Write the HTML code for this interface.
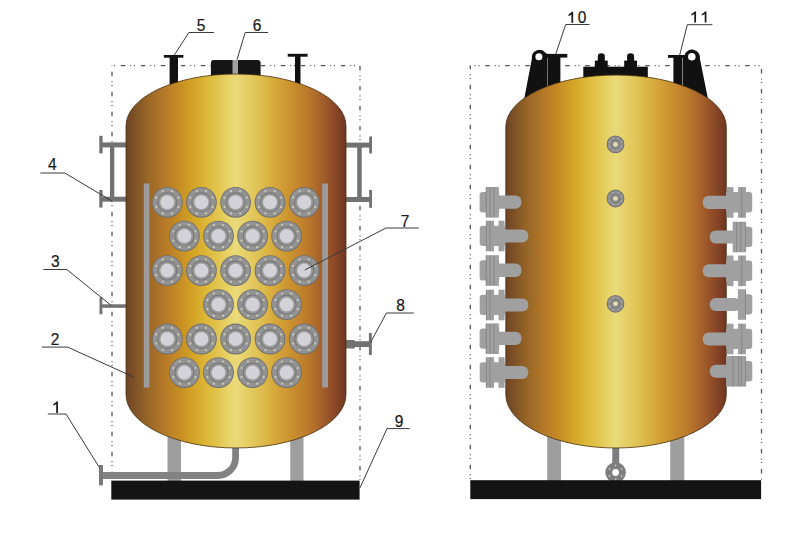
<!DOCTYPE html>
<html><head><meta charset="utf-8"><style>
html,body{margin:0;padding:0;background:#fff;}
body{width:810px;height:539px;overflow:hidden;}
svg{display:block;}
text{font-family:"Liberation Sans",sans-serif;font-size:15.5px;fill:#1a1a1a;stroke:#1a1a1a;stroke-width:0.22px;}
</style></head><body>
<svg width="810" height="539" viewBox="0 0 810 539">
<rect width="810" height="539" fill="#fff"/>

<defs>
<linearGradient id="tg" x1="0" y1="0" x2="1" y2="0">
  <stop offset="0" stop-color="#6e4426"/>
  <stop offset="0.04" stop-color="#7e5226"/>
  <stop offset="0.1" stop-color="#986626"/>
  <stop offset="0.17" stop-color="#b47828"/>
  <stop offset="0.24" stop-color="#c68c24"/>
  <stop offset="0.30" stop-color="#d2a224"/>
  <stop offset="0.36" stop-color="#dcb636"/>
  <stop offset="0.42" stop-color="#e2c650"/>
  <stop offset="0.47" stop-color="#e8d46c"/>
  <stop offset="0.5" stop-color="#eada7a"/>
  <stop offset="0.54" stop-color="#e6d068"/>
  <stop offset="0.6" stop-color="#e0c254"/>
  <stop offset="0.66" stop-color="#d8ae3e"/>
  <stop offset="0.74" stop-color="#cc9430"/>
  <stop offset="0.83" stop-color="#ba782c"/>
  <stop offset="0.9" stop-color="#a05c2a"/>
  <stop offset="0.96" stop-color="#854426"/>
  <stop offset="1" stop-color="#6e3622"/>
</linearGradient>
</defs>
<line x1="112" y1="65.6" x2="112" y2="480" stroke="#555" stroke-width="1.3" stroke-dasharray="4.5 5 1 2.7 1 5.8" stroke-dashoffset="13.8"/><line x1="112" y1="65.6" x2="360" y2="65.6" stroke="#555" stroke-width="1.3" stroke-dasharray="4.5 5 1 2.7 1 5.8" stroke-dashoffset="11.2"/><line x1="360" y1="65.6" x2="360" y2="480" stroke="#555" stroke-width="1.3" stroke-dasharray="4.5 5 1 2.7 1 5.8" stroke-dashoffset="19.5"/><line x1="470.3" y1="65.6" x2="470.3" y2="480" stroke="#555" stroke-width="1.3" stroke-dasharray="4.5 5 1 2.7 1 5.8" stroke-dashoffset="0.9"/><line x1="470.3" y1="65.6" x2="761.5" y2="65.6" stroke="#555" stroke-width="1.3" stroke-dasharray="4.5 5 1 2.7 1 5.8" stroke-dashoffset="5.1"/><line x1="761.5" y1="65.6" x2="761.5" y2="480" stroke="#555" stroke-width="1.3" stroke-dasharray="4.5 5 1 2.7 1 5.8" stroke-dashoffset="16.7"/><rect x="167.5" y="425" width="13.5" height="56" fill="#9e9e9e"/><rect x="290.2" y="425" width="13.3" height="56" fill="#9e9e9e"/><path d="M102,475.5 L217.5,475.5 C227.5,475.5 235.6,467.5 235.6,457.5 L235.6,440" stroke="#828282" stroke-width="6.8" fill="none"/><rect x="99" y="465" width="4" height="20.4" fill="#7a7a7a"/><rect x="163.8" y="55" width="19.6" height="2.7" fill="#111"/><rect x="169.6" y="55" width="8.4" height="35" fill="#111"/><rect x="287.7" y="53.8" width="19.9" height="2.9" fill="#111"/><rect x="295" y="54" width="5.5" height="36" fill="#111"/><path d="M210.9,90 L210.9,63 Q210.9,60 213.9,60 L257.6,60 Q260.6,60 260.6,63 L260.6,90 Z" fill="#151515"/><rect x="232.5" y="60" width="5.5" height="16" fill="#a0a0a0"/><rect x="100" y="142.4" width="26" height="5" fill="#727272"/><rect x="100" y="196.7" width="26" height="5" fill="#727272"/><rect x="110" y="145" width="4.3" height="54" fill="#727272"/><rect x="99.3" y="135.8" width="3.3" height="17.6" fill="#727272"/><rect x="99.3" y="190" width="3.3" height="17.6" fill="#727272"/><rect x="345" y="142.6" width="25" height="5" fill="#727272"/><rect x="345" y="197" width="25" height="5" fill="#727272"/><rect x="357.2" y="145" width="4.5" height="54" fill="#727272"/><rect x="369.2" y="136.4" width="2.8" height="17" fill="#727272"/><rect x="369.2" y="190" width="2.8" height="17.8" fill="#727272"/><rect x="100" y="304.3" width="27" height="3.5" fill="#727272"/><rect x="99.5" y="297.4" width="2.8" height="16.9" fill="#727272"/><rect x="345" y="340" width="10" height="8.6" rx="1.5" fill="#727272"/><rect x="354" y="341.2" width="16" height="5.8" fill="#727272"/><rect x="368.9" y="333" width="2.9" height="22" fill="#727272"/><path d="M126,126 A110,52 0 0 1 346,126 L346,394.5 A110,53.5 0 0 1 126,394.5 Z" fill="url(#tg)" stroke="#4a3010" stroke-width="0.8"/><rect x="143.8" y="183.5" width="5.6" height="204" fill="#9c9c9c"/><rect x="322.2" y="183.5" width="5.8" height="204" fill="#9c9c9c"/><circle cx="167.3" cy="202.3" r="15.4" fill="#6f6f6f"/><circle cx="167.3" cy="202.3" r="14.5" fill="#939393"/><circle cx="178.39" cy="206.89" r="1.1" fill="#cfcdb8"/><circle cx="171.89" cy="213.39" r="1.1" fill="#cfcdb8"/><circle cx="162.71" cy="213.39" r="1.1" fill="#cfcdb8"/><circle cx="156.21" cy="206.89" r="1.1" fill="#cfcdb8"/><circle cx="156.21" cy="197.71" r="1.1" fill="#cfcdb8"/><circle cx="162.71" cy="191.21" r="1.1" fill="#cfcdb8"/><circle cx="171.89" cy="191.21" r="1.1" fill="#cfcdb8"/><circle cx="178.39" cy="197.71" r="1.1" fill="#cfcdb8"/><circle cx="167.3" cy="202.3" r="10" fill="#747474"/><circle cx="167.3" cy="202.3" r="9.1" fill="#969696"/><circle cx="167.3" cy="202.3" r="7" fill="#d2d2d8"/><circle cx="201.4" cy="202.3" r="15.4" fill="#6f6f6f"/><circle cx="201.4" cy="202.3" r="14.5" fill="#939393"/><circle cx="212.49" cy="206.89" r="1.1" fill="#cfcdb8"/><circle cx="205.99" cy="213.39" r="1.1" fill="#cfcdb8"/><circle cx="196.81" cy="213.39" r="1.1" fill="#cfcdb8"/><circle cx="190.31" cy="206.89" r="1.1" fill="#cfcdb8"/><circle cx="190.31" cy="197.71" r="1.1" fill="#cfcdb8"/><circle cx="196.81" cy="191.21" r="1.1" fill="#cfcdb8"/><circle cx="205.99" cy="191.21" r="1.1" fill="#cfcdb8"/><circle cx="212.49" cy="197.71" r="1.1" fill="#cfcdb8"/><circle cx="201.4" cy="202.3" r="10" fill="#747474"/><circle cx="201.4" cy="202.3" r="9.1" fill="#969696"/><circle cx="201.4" cy="202.3" r="7" fill="#d2d2d8"/><circle cx="235.6" cy="202.3" r="15.4" fill="#6f6f6f"/><circle cx="235.6" cy="202.3" r="14.5" fill="#939393"/><circle cx="246.69" cy="206.89" r="1.1" fill="#cfcdb8"/><circle cx="240.19" cy="213.39" r="1.1" fill="#cfcdb8"/><circle cx="231.01" cy="213.39" r="1.1" fill="#cfcdb8"/><circle cx="224.51" cy="206.89" r="1.1" fill="#cfcdb8"/><circle cx="224.51" cy="197.71" r="1.1" fill="#cfcdb8"/><circle cx="231.01" cy="191.21" r="1.1" fill="#cfcdb8"/><circle cx="240.19" cy="191.21" r="1.1" fill="#cfcdb8"/><circle cx="246.69" cy="197.71" r="1.1" fill="#cfcdb8"/><circle cx="235.6" cy="202.3" r="10" fill="#747474"/><circle cx="235.6" cy="202.3" r="9.1" fill="#969696"/><circle cx="235.6" cy="202.3" r="7" fill="#d2d2d8"/><circle cx="270" cy="202.3" r="15.4" fill="#6f6f6f"/><circle cx="270" cy="202.3" r="14.5" fill="#939393"/><circle cx="281.09" cy="206.89" r="1.1" fill="#cfcdb8"/><circle cx="274.59" cy="213.39" r="1.1" fill="#cfcdb8"/><circle cx="265.41" cy="213.39" r="1.1" fill="#cfcdb8"/><circle cx="258.91" cy="206.89" r="1.1" fill="#cfcdb8"/><circle cx="258.91" cy="197.71" r="1.1" fill="#cfcdb8"/><circle cx="265.41" cy="191.21" r="1.1" fill="#cfcdb8"/><circle cx="274.59" cy="191.21" r="1.1" fill="#cfcdb8"/><circle cx="281.09" cy="197.71" r="1.1" fill="#cfcdb8"/><circle cx="270" cy="202.3" r="10" fill="#747474"/><circle cx="270" cy="202.3" r="9.1" fill="#969696"/><circle cx="270" cy="202.3" r="7" fill="#d2d2d8"/><circle cx="304.2" cy="202.3" r="15.4" fill="#6f6f6f"/><circle cx="304.2" cy="202.3" r="14.5" fill="#939393"/><circle cx="315.29" cy="206.89" r="1.1" fill="#cfcdb8"/><circle cx="308.79" cy="213.39" r="1.1" fill="#cfcdb8"/><circle cx="299.61" cy="213.39" r="1.1" fill="#cfcdb8"/><circle cx="293.11" cy="206.89" r="1.1" fill="#cfcdb8"/><circle cx="293.11" cy="197.71" r="1.1" fill="#cfcdb8"/><circle cx="299.61" cy="191.21" r="1.1" fill="#cfcdb8"/><circle cx="308.79" cy="191.21" r="1.1" fill="#cfcdb8"/><circle cx="315.29" cy="197.71" r="1.1" fill="#cfcdb8"/><circle cx="304.2" cy="202.3" r="10" fill="#747474"/><circle cx="304.2" cy="202.3" r="9.1" fill="#969696"/><circle cx="304.2" cy="202.3" r="7" fill="#d2d2d8"/><circle cx="184.4" cy="236.1" r="15.4" fill="#6f6f6f"/><circle cx="184.4" cy="236.1" r="14.5" fill="#939393"/><circle cx="195.49" cy="240.69" r="1.1" fill="#cfcdb8"/><circle cx="188.99" cy="247.19" r="1.1" fill="#cfcdb8"/><circle cx="179.81" cy="247.19" r="1.1" fill="#cfcdb8"/><circle cx="173.31" cy="240.69" r="1.1" fill="#cfcdb8"/><circle cx="173.31" cy="231.51" r="1.1" fill="#cfcdb8"/><circle cx="179.81" cy="225.01" r="1.1" fill="#cfcdb8"/><circle cx="188.99" cy="225.01" r="1.1" fill="#cfcdb8"/><circle cx="195.49" cy="231.51" r="1.1" fill="#cfcdb8"/><circle cx="184.4" cy="236.1" r="10" fill="#747474"/><circle cx="184.4" cy="236.1" r="9.1" fill="#969696"/><circle cx="184.4" cy="236.1" r="7" fill="#d2d2d8"/><circle cx="218.5" cy="236.1" r="15.4" fill="#6f6f6f"/><circle cx="218.5" cy="236.1" r="14.5" fill="#939393"/><circle cx="229.59" cy="240.69" r="1.1" fill="#cfcdb8"/><circle cx="223.09" cy="247.19" r="1.1" fill="#cfcdb8"/><circle cx="213.91" cy="247.19" r="1.1" fill="#cfcdb8"/><circle cx="207.41" cy="240.69" r="1.1" fill="#cfcdb8"/><circle cx="207.41" cy="231.51" r="1.1" fill="#cfcdb8"/><circle cx="213.91" cy="225.01" r="1.1" fill="#cfcdb8"/><circle cx="223.09" cy="225.01" r="1.1" fill="#cfcdb8"/><circle cx="229.59" cy="231.51" r="1.1" fill="#cfcdb8"/><circle cx="218.5" cy="236.1" r="10" fill="#747474"/><circle cx="218.5" cy="236.1" r="9.1" fill="#969696"/><circle cx="218.5" cy="236.1" r="7" fill="#d2d2d8"/><circle cx="252.6" cy="236.1" r="15.4" fill="#6f6f6f"/><circle cx="252.6" cy="236.1" r="14.5" fill="#939393"/><circle cx="263.69" cy="240.69" r="1.1" fill="#cfcdb8"/><circle cx="257.19" cy="247.19" r="1.1" fill="#cfcdb8"/><circle cx="248.01" cy="247.19" r="1.1" fill="#cfcdb8"/><circle cx="241.51" cy="240.69" r="1.1" fill="#cfcdb8"/><circle cx="241.51" cy="231.51" r="1.1" fill="#cfcdb8"/><circle cx="248.01" cy="225.01" r="1.1" fill="#cfcdb8"/><circle cx="257.19" cy="225.01" r="1.1" fill="#cfcdb8"/><circle cx="263.69" cy="231.51" r="1.1" fill="#cfcdb8"/><circle cx="252.6" cy="236.1" r="10" fill="#747474"/><circle cx="252.6" cy="236.1" r="9.1" fill="#969696"/><circle cx="252.6" cy="236.1" r="7" fill="#d2d2d8"/><circle cx="286.6" cy="236.1" r="15.4" fill="#6f6f6f"/><circle cx="286.6" cy="236.1" r="14.5" fill="#939393"/><circle cx="297.69" cy="240.69" r="1.1" fill="#cfcdb8"/><circle cx="291.19" cy="247.19" r="1.1" fill="#cfcdb8"/><circle cx="282.01" cy="247.19" r="1.1" fill="#cfcdb8"/><circle cx="275.51" cy="240.69" r="1.1" fill="#cfcdb8"/><circle cx="275.51" cy="231.51" r="1.1" fill="#cfcdb8"/><circle cx="282.01" cy="225.01" r="1.1" fill="#cfcdb8"/><circle cx="291.19" cy="225.01" r="1.1" fill="#cfcdb8"/><circle cx="297.69" cy="231.51" r="1.1" fill="#cfcdb8"/><circle cx="286.6" cy="236.1" r="10" fill="#747474"/><circle cx="286.6" cy="236.1" r="9.1" fill="#969696"/><circle cx="286.6" cy="236.1" r="7" fill="#d2d2d8"/><circle cx="167.3" cy="270.6" r="15.4" fill="#6f6f6f"/><circle cx="167.3" cy="270.6" r="14.5" fill="#939393"/><circle cx="178.39" cy="275.19" r="1.1" fill="#cfcdb8"/><circle cx="171.89" cy="281.69" r="1.1" fill="#cfcdb8"/><circle cx="162.71" cy="281.69" r="1.1" fill="#cfcdb8"/><circle cx="156.21" cy="275.19" r="1.1" fill="#cfcdb8"/><circle cx="156.21" cy="266.01" r="1.1" fill="#cfcdb8"/><circle cx="162.71" cy="259.51" r="1.1" fill="#cfcdb8"/><circle cx="171.89" cy="259.51" r="1.1" fill="#cfcdb8"/><circle cx="178.39" cy="266.01" r="1.1" fill="#cfcdb8"/><circle cx="167.3" cy="270.6" r="10" fill="#747474"/><circle cx="167.3" cy="270.6" r="9.1" fill="#969696"/><circle cx="167.3" cy="270.6" r="7" fill="#d2d2d8"/><circle cx="201.4" cy="270.6" r="15.4" fill="#6f6f6f"/><circle cx="201.4" cy="270.6" r="14.5" fill="#939393"/><circle cx="212.49" cy="275.19" r="1.1" fill="#cfcdb8"/><circle cx="205.99" cy="281.69" r="1.1" fill="#cfcdb8"/><circle cx="196.81" cy="281.69" r="1.1" fill="#cfcdb8"/><circle cx="190.31" cy="275.19" r="1.1" fill="#cfcdb8"/><circle cx="190.31" cy="266.01" r="1.1" fill="#cfcdb8"/><circle cx="196.81" cy="259.51" r="1.1" fill="#cfcdb8"/><circle cx="205.99" cy="259.51" r="1.1" fill="#cfcdb8"/><circle cx="212.49" cy="266.01" r="1.1" fill="#cfcdb8"/><circle cx="201.4" cy="270.6" r="10" fill="#747474"/><circle cx="201.4" cy="270.6" r="9.1" fill="#969696"/><circle cx="201.4" cy="270.6" r="7" fill="#d2d2d8"/><circle cx="235.6" cy="270.6" r="15.4" fill="#6f6f6f"/><circle cx="235.6" cy="270.6" r="14.5" fill="#939393"/><circle cx="246.69" cy="275.19" r="1.1" fill="#cfcdb8"/><circle cx="240.19" cy="281.69" r="1.1" fill="#cfcdb8"/><circle cx="231.01" cy="281.69" r="1.1" fill="#cfcdb8"/><circle cx="224.51" cy="275.19" r="1.1" fill="#cfcdb8"/><circle cx="224.51" cy="266.01" r="1.1" fill="#cfcdb8"/><circle cx="231.01" cy="259.51" r="1.1" fill="#cfcdb8"/><circle cx="240.19" cy="259.51" r="1.1" fill="#cfcdb8"/><circle cx="246.69" cy="266.01" r="1.1" fill="#cfcdb8"/><circle cx="235.6" cy="270.6" r="10" fill="#747474"/><circle cx="235.6" cy="270.6" r="9.1" fill="#969696"/><circle cx="235.6" cy="270.6" r="7" fill="#d2d2d8"/><circle cx="270" cy="270.6" r="15.4" fill="#6f6f6f"/><circle cx="270" cy="270.6" r="14.5" fill="#939393"/><circle cx="281.09" cy="275.19" r="1.1" fill="#cfcdb8"/><circle cx="274.59" cy="281.69" r="1.1" fill="#cfcdb8"/><circle cx="265.41" cy="281.69" r="1.1" fill="#cfcdb8"/><circle cx="258.91" cy="275.19" r="1.1" fill="#cfcdb8"/><circle cx="258.91" cy="266.01" r="1.1" fill="#cfcdb8"/><circle cx="265.41" cy="259.51" r="1.1" fill="#cfcdb8"/><circle cx="274.59" cy="259.51" r="1.1" fill="#cfcdb8"/><circle cx="281.09" cy="266.01" r="1.1" fill="#cfcdb8"/><circle cx="270" cy="270.6" r="10" fill="#747474"/><circle cx="270" cy="270.6" r="9.1" fill="#969696"/><circle cx="270" cy="270.6" r="7" fill="#d2d2d8"/><circle cx="304.2" cy="270.6" r="15.4" fill="#6f6f6f"/><circle cx="304.2" cy="270.6" r="14.5" fill="#939393"/><circle cx="315.29" cy="275.19" r="1.1" fill="#cfcdb8"/><circle cx="308.79" cy="281.69" r="1.1" fill="#cfcdb8"/><circle cx="299.61" cy="281.69" r="1.1" fill="#cfcdb8"/><circle cx="293.11" cy="275.19" r="1.1" fill="#cfcdb8"/><circle cx="293.11" cy="266.01" r="1.1" fill="#cfcdb8"/><circle cx="299.61" cy="259.51" r="1.1" fill="#cfcdb8"/><circle cx="308.79" cy="259.51" r="1.1" fill="#cfcdb8"/><circle cx="315.29" cy="266.01" r="1.1" fill="#cfcdb8"/><circle cx="304.2" cy="270.6" r="10" fill="#747474"/><circle cx="304.2" cy="270.6" r="9.1" fill="#969696"/><circle cx="304.2" cy="270.6" r="7" fill="#d2d2d8"/><circle cx="218.5" cy="304.6" r="15.4" fill="#6f6f6f"/><circle cx="218.5" cy="304.6" r="14.5" fill="#939393"/><circle cx="229.59" cy="309.19" r="1.1" fill="#cfcdb8"/><circle cx="223.09" cy="315.69" r="1.1" fill="#cfcdb8"/><circle cx="213.91" cy="315.69" r="1.1" fill="#cfcdb8"/><circle cx="207.41" cy="309.19" r="1.1" fill="#cfcdb8"/><circle cx="207.41" cy="300.01" r="1.1" fill="#cfcdb8"/><circle cx="213.91" cy="293.51" r="1.1" fill="#cfcdb8"/><circle cx="223.09" cy="293.51" r="1.1" fill="#cfcdb8"/><circle cx="229.59" cy="300.01" r="1.1" fill="#cfcdb8"/><circle cx="218.5" cy="304.6" r="10" fill="#747474"/><circle cx="218.5" cy="304.6" r="9.1" fill="#969696"/><circle cx="218.5" cy="304.6" r="7" fill="#d2d2d8"/><circle cx="252.6" cy="304.6" r="15.4" fill="#6f6f6f"/><circle cx="252.6" cy="304.6" r="14.5" fill="#939393"/><circle cx="263.69" cy="309.19" r="1.1" fill="#cfcdb8"/><circle cx="257.19" cy="315.69" r="1.1" fill="#cfcdb8"/><circle cx="248.01" cy="315.69" r="1.1" fill="#cfcdb8"/><circle cx="241.51" cy="309.19" r="1.1" fill="#cfcdb8"/><circle cx="241.51" cy="300.01" r="1.1" fill="#cfcdb8"/><circle cx="248.01" cy="293.51" r="1.1" fill="#cfcdb8"/><circle cx="257.19" cy="293.51" r="1.1" fill="#cfcdb8"/><circle cx="263.69" cy="300.01" r="1.1" fill="#cfcdb8"/><circle cx="252.6" cy="304.6" r="10" fill="#747474"/><circle cx="252.6" cy="304.6" r="9.1" fill="#969696"/><circle cx="252.6" cy="304.6" r="7" fill="#d2d2d8"/><circle cx="286.6" cy="304.6" r="15.4" fill="#6f6f6f"/><circle cx="286.6" cy="304.6" r="14.5" fill="#939393"/><circle cx="297.69" cy="309.19" r="1.1" fill="#cfcdb8"/><circle cx="291.19" cy="315.69" r="1.1" fill="#cfcdb8"/><circle cx="282.01" cy="315.69" r="1.1" fill="#cfcdb8"/><circle cx="275.51" cy="309.19" r="1.1" fill="#cfcdb8"/><circle cx="275.51" cy="300.01" r="1.1" fill="#cfcdb8"/><circle cx="282.01" cy="293.51" r="1.1" fill="#cfcdb8"/><circle cx="291.19" cy="293.51" r="1.1" fill="#cfcdb8"/><circle cx="297.69" cy="300.01" r="1.1" fill="#cfcdb8"/><circle cx="286.6" cy="304.6" r="10" fill="#747474"/><circle cx="286.6" cy="304.6" r="9.1" fill="#969696"/><circle cx="286.6" cy="304.6" r="7" fill="#d2d2d8"/><circle cx="167.3" cy="339" r="15.4" fill="#6f6f6f"/><circle cx="167.3" cy="339" r="14.5" fill="#939393"/><circle cx="178.39" cy="343.59" r="1.1" fill="#cfcdb8"/><circle cx="171.89" cy="350.09" r="1.1" fill="#cfcdb8"/><circle cx="162.71" cy="350.09" r="1.1" fill="#cfcdb8"/><circle cx="156.21" cy="343.59" r="1.1" fill="#cfcdb8"/><circle cx="156.21" cy="334.41" r="1.1" fill="#cfcdb8"/><circle cx="162.71" cy="327.91" r="1.1" fill="#cfcdb8"/><circle cx="171.89" cy="327.91" r="1.1" fill="#cfcdb8"/><circle cx="178.39" cy="334.41" r="1.1" fill="#cfcdb8"/><circle cx="167.3" cy="339" r="10" fill="#747474"/><circle cx="167.3" cy="339" r="9.1" fill="#969696"/><circle cx="167.3" cy="339" r="7" fill="#d2d2d8"/><circle cx="201.4" cy="339" r="15.4" fill="#6f6f6f"/><circle cx="201.4" cy="339" r="14.5" fill="#939393"/><circle cx="212.49" cy="343.59" r="1.1" fill="#cfcdb8"/><circle cx="205.99" cy="350.09" r="1.1" fill="#cfcdb8"/><circle cx="196.81" cy="350.09" r="1.1" fill="#cfcdb8"/><circle cx="190.31" cy="343.59" r="1.1" fill="#cfcdb8"/><circle cx="190.31" cy="334.41" r="1.1" fill="#cfcdb8"/><circle cx="196.81" cy="327.91" r="1.1" fill="#cfcdb8"/><circle cx="205.99" cy="327.91" r="1.1" fill="#cfcdb8"/><circle cx="212.49" cy="334.41" r="1.1" fill="#cfcdb8"/><circle cx="201.4" cy="339" r="10" fill="#747474"/><circle cx="201.4" cy="339" r="9.1" fill="#969696"/><circle cx="201.4" cy="339" r="7" fill="#d2d2d8"/><circle cx="235.6" cy="339" r="15.4" fill="#6f6f6f"/><circle cx="235.6" cy="339" r="14.5" fill="#939393"/><circle cx="246.69" cy="343.59" r="1.1" fill="#cfcdb8"/><circle cx="240.19" cy="350.09" r="1.1" fill="#cfcdb8"/><circle cx="231.01" cy="350.09" r="1.1" fill="#cfcdb8"/><circle cx="224.51" cy="343.59" r="1.1" fill="#cfcdb8"/><circle cx="224.51" cy="334.41" r="1.1" fill="#cfcdb8"/><circle cx="231.01" cy="327.91" r="1.1" fill="#cfcdb8"/><circle cx="240.19" cy="327.91" r="1.1" fill="#cfcdb8"/><circle cx="246.69" cy="334.41" r="1.1" fill="#cfcdb8"/><circle cx="235.6" cy="339" r="10" fill="#747474"/><circle cx="235.6" cy="339" r="9.1" fill="#969696"/><circle cx="235.6" cy="339" r="7" fill="#d2d2d8"/><circle cx="270" cy="339" r="15.4" fill="#6f6f6f"/><circle cx="270" cy="339" r="14.5" fill="#939393"/><circle cx="281.09" cy="343.59" r="1.1" fill="#cfcdb8"/><circle cx="274.59" cy="350.09" r="1.1" fill="#cfcdb8"/><circle cx="265.41" cy="350.09" r="1.1" fill="#cfcdb8"/><circle cx="258.91" cy="343.59" r="1.1" fill="#cfcdb8"/><circle cx="258.91" cy="334.41" r="1.1" fill="#cfcdb8"/><circle cx="265.41" cy="327.91" r="1.1" fill="#cfcdb8"/><circle cx="274.59" cy="327.91" r="1.1" fill="#cfcdb8"/><circle cx="281.09" cy="334.41" r="1.1" fill="#cfcdb8"/><circle cx="270" cy="339" r="10" fill="#747474"/><circle cx="270" cy="339" r="9.1" fill="#969696"/><circle cx="270" cy="339" r="7" fill="#d2d2d8"/><circle cx="304.2" cy="339" r="15.4" fill="#6f6f6f"/><circle cx="304.2" cy="339" r="14.5" fill="#939393"/><circle cx="315.29" cy="343.59" r="1.1" fill="#cfcdb8"/><circle cx="308.79" cy="350.09" r="1.1" fill="#cfcdb8"/><circle cx="299.61" cy="350.09" r="1.1" fill="#cfcdb8"/><circle cx="293.11" cy="343.59" r="1.1" fill="#cfcdb8"/><circle cx="293.11" cy="334.41" r="1.1" fill="#cfcdb8"/><circle cx="299.61" cy="327.91" r="1.1" fill="#cfcdb8"/><circle cx="308.79" cy="327.91" r="1.1" fill="#cfcdb8"/><circle cx="315.29" cy="334.41" r="1.1" fill="#cfcdb8"/><circle cx="304.2" cy="339" r="10" fill="#747474"/><circle cx="304.2" cy="339" r="9.1" fill="#969696"/><circle cx="304.2" cy="339" r="7" fill="#d2d2d8"/><circle cx="184.4" cy="372.6" r="15.4" fill="#6f6f6f"/><circle cx="184.4" cy="372.6" r="14.5" fill="#939393"/><circle cx="195.49" cy="377.19" r="1.1" fill="#cfcdb8"/><circle cx="188.99" cy="383.69" r="1.1" fill="#cfcdb8"/><circle cx="179.81" cy="383.69" r="1.1" fill="#cfcdb8"/><circle cx="173.31" cy="377.19" r="1.1" fill="#cfcdb8"/><circle cx="173.31" cy="368.01" r="1.1" fill="#cfcdb8"/><circle cx="179.81" cy="361.51" r="1.1" fill="#cfcdb8"/><circle cx="188.99" cy="361.51" r="1.1" fill="#cfcdb8"/><circle cx="195.49" cy="368.01" r="1.1" fill="#cfcdb8"/><circle cx="184.4" cy="372.6" r="10" fill="#747474"/><circle cx="184.4" cy="372.6" r="9.1" fill="#969696"/><circle cx="184.4" cy="372.6" r="7" fill="#d2d2d8"/><circle cx="218.5" cy="372.6" r="15.4" fill="#6f6f6f"/><circle cx="218.5" cy="372.6" r="14.5" fill="#939393"/><circle cx="229.59" cy="377.19" r="1.1" fill="#cfcdb8"/><circle cx="223.09" cy="383.69" r="1.1" fill="#cfcdb8"/><circle cx="213.91" cy="383.69" r="1.1" fill="#cfcdb8"/><circle cx="207.41" cy="377.19" r="1.1" fill="#cfcdb8"/><circle cx="207.41" cy="368.01" r="1.1" fill="#cfcdb8"/><circle cx="213.91" cy="361.51" r="1.1" fill="#cfcdb8"/><circle cx="223.09" cy="361.51" r="1.1" fill="#cfcdb8"/><circle cx="229.59" cy="368.01" r="1.1" fill="#cfcdb8"/><circle cx="218.5" cy="372.6" r="10" fill="#747474"/><circle cx="218.5" cy="372.6" r="9.1" fill="#969696"/><circle cx="218.5" cy="372.6" r="7" fill="#d2d2d8"/><circle cx="252.6" cy="372.6" r="15.4" fill="#6f6f6f"/><circle cx="252.6" cy="372.6" r="14.5" fill="#939393"/><circle cx="263.69" cy="377.19" r="1.1" fill="#cfcdb8"/><circle cx="257.19" cy="383.69" r="1.1" fill="#cfcdb8"/><circle cx="248.01" cy="383.69" r="1.1" fill="#cfcdb8"/><circle cx="241.51" cy="377.19" r="1.1" fill="#cfcdb8"/><circle cx="241.51" cy="368.01" r="1.1" fill="#cfcdb8"/><circle cx="248.01" cy="361.51" r="1.1" fill="#cfcdb8"/><circle cx="257.19" cy="361.51" r="1.1" fill="#cfcdb8"/><circle cx="263.69" cy="368.01" r="1.1" fill="#cfcdb8"/><circle cx="252.6" cy="372.6" r="10" fill="#747474"/><circle cx="252.6" cy="372.6" r="9.1" fill="#969696"/><circle cx="252.6" cy="372.6" r="7" fill="#d2d2d8"/><circle cx="286.6" cy="372.6" r="15.4" fill="#6f6f6f"/><circle cx="286.6" cy="372.6" r="14.5" fill="#939393"/><circle cx="297.69" cy="377.19" r="1.1" fill="#cfcdb8"/><circle cx="291.19" cy="383.69" r="1.1" fill="#cfcdb8"/><circle cx="282.01" cy="383.69" r="1.1" fill="#cfcdb8"/><circle cx="275.51" cy="377.19" r="1.1" fill="#cfcdb8"/><circle cx="275.51" cy="368.01" r="1.1" fill="#cfcdb8"/><circle cx="282.01" cy="361.51" r="1.1" fill="#cfcdb8"/><circle cx="291.19" cy="361.51" r="1.1" fill="#cfcdb8"/><circle cx="297.69" cy="368.01" r="1.1" fill="#cfcdb8"/><circle cx="286.6" cy="372.6" r="10" fill="#747474"/><circle cx="286.6" cy="372.6" r="9.1" fill="#969696"/><circle cx="286.6" cy="372.6" r="7" fill="#d2d2d8"/><rect x="111.3" y="480.6" width="248.3" height="19" fill="#141414"/><rect x="547.2" y="425" width="13.8" height="56" fill="#9e9e9e"/><rect x="670.2" y="425" width="14.1" height="56" fill="#9e9e9e"/><rect x="612.3" y="440" width="6.9" height="30" fill="#7e7e7e"/><circle cx="615.6" cy="472.5" r="10.3" fill="#7e7e7e"/><circle cx="615.6" cy="472.5" r="3.4" fill="#ffffff"/><circle cx="621.66" cy="476" r="0.9" fill="#c4c4c4"/><circle cx="615.6" cy="479.5" r="0.9" fill="#c4c4c4"/><circle cx="609.54" cy="476" r="0.9" fill="#c4c4c4"/><circle cx="609.54" cy="469" r="0.9" fill="#c4c4c4"/><circle cx="615.6" cy="465.5" r="0.9" fill="#c4c4c4"/><circle cx="621.66" cy="469" r="0.9" fill="#c4c4c4"/><path d="M524,100 L531.9,58.5 A7.7,7.7 0 0 1 545.6,52.9 L547.5,53.9 L547.5,100 Z" fill="#111"/><rect x="541.2" y="53.9" width="26.1" height="3.7" fill="#111"/><rect x="547.8" y="55" width="12.6" height="40" fill="#111"/><line x1="547.5" y1="58" x2="547.5" y2="88" stroke="#777" stroke-width="0.6"/><circle cx="538.9" cy="56.7" r="3.5" fill="#fff"/><path d="M708.2,100 L699.9,58.8 A8,8 0 0 0 684.3,55.4 L682.8,55 L682.8,100 Z" fill="#111"/><rect x="668" y="55" width="19" height="2.8" fill="#111"/><rect x="673.4" y="55" width="8.9" height="40" fill="#111"/><line x1="682.5" y1="58" x2="682.5" y2="88" stroke="#777" stroke-width="0.6"/><circle cx="691.8" cy="56.8" r="3.8" fill="#fff"/><rect x="583.3" y="66.7" width="64.5" height="20" fill="#111"/><rect x="594.9" y="60.6" width="12.8" height="8" fill="#111"/><path d="M597.8,62 L597.8,56 Q597.8,53.3 601.3,53.3 Q604.8,53.3 604.8,56 L604.8,62 Z" fill="#111"/><rect x="624.2" y="60.6" width="12.8" height="8" fill="#111"/><path d="M627.1,62 L627.1,56 Q627.1,53.3 630.6,53.3 Q634.1,53.3 634.1,56 L634.1,62 Z" fill="#111"/><path d="M505.8,127 A110.25,52 0 0 1 726.3,127 L726.3,394.5 A110.25,53.5 0 0 1 505.8,394.5 Z" fill="url(#tg)" stroke="#4a3010" stroke-width="0.8"/><rect x="491" y="195.4" width="30.5" height="13.3" rx="6" fill="#a0a0a0"/><path d="M482.6,192 L499.2,192 L499.2,212.4 L482.6,212.4 Q479.6,212.4 479.6,209.4 L479.6,195 Q479.6,192 482.6,192 Z" fill="#a0a0a0"/><rect x="485.9" y="187" width="13" height="30.6" fill="#a0a0a0"/><line x1="486.2" y1="187.3" x2="486.2" y2="217.3" stroke="#808080" stroke-width="0.8"/><line x1="490" y1="187.3" x2="490" y2="217.3" stroke="#808080" stroke-width="0.8"/><line x1="494" y1="187.3" x2="494" y2="217.3" stroke="#808080" stroke-width="0.8"/><rect x="497" y="229.4" width="31.3" height="13" rx="6" fill="#a0a0a0"/><path d="M482.7,225.7 L505,225.7 L505,246.1 L482.7,246.1 Q479.7,246.1 479.7,243.1 L479.7,228.7 Q479.7,225.7 482.7,225.7 Z" fill="#a0a0a0"/><rect x="486.1" y="220.7" width="7.9" height="30.6" fill="#a0a0a0"/><rect x="498.5" y="220.7" width="6.1" height="30.6" fill="#a0a0a0"/><line x1="486.4" y1="221" x2="486.4" y2="251" stroke="#808080" stroke-width="0.8"/><line x1="490" y1="221" x2="490" y2="251" stroke="#808080" stroke-width="0.8"/><rect x="491" y="263.6" width="30.5" height="13.3" rx="6" fill="#a0a0a0"/><path d="M482.6,260.2 L499.2,260.2 L499.2,280.6 L482.6,280.6 Q479.6,280.6 479.6,277.6 L479.6,263.2 Q479.6,260.2 482.6,260.2 Z" fill="#a0a0a0"/><rect x="485.9" y="255.2" width="13" height="30.6" fill="#a0a0a0"/><line x1="486.2" y1="255.5" x2="486.2" y2="285.5" stroke="#808080" stroke-width="0.8"/><line x1="490" y1="255.5" x2="490" y2="285.5" stroke="#808080" stroke-width="0.8"/><line x1="494" y1="255.5" x2="494" y2="285.5" stroke="#808080" stroke-width="0.8"/><rect x="497" y="298.4" width="31.3" height="13" rx="6" fill="#a0a0a0"/><path d="M482.7,294.7 L505,294.7 L505,315.1 L482.7,315.1 Q479.7,315.1 479.7,312.1 L479.7,297.7 Q479.7,294.7 482.7,294.7 Z" fill="#a0a0a0"/><rect x="486.1" y="289.7" width="7.9" height="30.6" fill="#a0a0a0"/><rect x="498.5" y="289.7" width="6.1" height="30.6" fill="#a0a0a0"/><line x1="486.4" y1="290" x2="486.4" y2="320" stroke="#808080" stroke-width="0.8"/><line x1="490" y1="290" x2="490" y2="320" stroke="#808080" stroke-width="0.8"/><rect x="491" y="331.8" width="30.5" height="13.3" rx="6" fill="#a0a0a0"/><path d="M482.6,328.4 L499.2,328.4 L499.2,348.8 L482.6,348.8 Q479.6,348.8 479.6,345.8 L479.6,331.4 Q479.6,328.4 482.6,328.4 Z" fill="#a0a0a0"/><rect x="485.9" y="323.4" width="13" height="30.6" fill="#a0a0a0"/><line x1="486.2" y1="323.7" x2="486.2" y2="353.7" stroke="#808080" stroke-width="0.8"/><line x1="490" y1="323.7" x2="490" y2="353.7" stroke="#808080" stroke-width="0.8"/><line x1="494" y1="323.7" x2="494" y2="353.7" stroke="#808080" stroke-width="0.8"/><rect x="497" y="365.9" width="31.3" height="13" rx="6" fill="#a0a0a0"/><path d="M482.7,362.2 L505,362.2 L505,382.6 L482.7,382.6 Q479.7,382.6 479.7,379.6 L479.7,365.2 Q479.7,362.2 482.7,362.2 Z" fill="#a0a0a0"/><rect x="486.1" y="357.2" width="7.9" height="30.6" fill="#a0a0a0"/><rect x="498.5" y="357.2" width="6.1" height="30.6" fill="#a0a0a0"/><line x1="486.4" y1="357.5" x2="486.4" y2="387.5" stroke="#808080" stroke-width="0.8"/><line x1="490" y1="357.5" x2="490" y2="387.5" stroke="#808080" stroke-width="0.8"/><rect x="702.7" y="195.8" width="32.3" height="13.1" rx="6" fill="#a0a0a0"/><path d="M726,192.1 L749.2,192.1 Q752.2,192.1 752.2,195.1 L752.2,209.5 Q752.2,212.5 749.2,212.5 L726,212.5 Z" fill="#a0a0a0"/><rect x="726.7" y="187.1" width="6.8" height="30.6" fill="#a0a0a0"/><rect x="738" y="187.1" width="8" height="30.6" fill="#a0a0a0"/><line x1="741.8" y1="187.4" x2="741.8" y2="217.4" stroke="#808080" stroke-width="0.8"/><rect x="709.7" y="230.4" width="30.3" height="13.1" rx="6" fill="#a0a0a0"/><path d="M738,226.7 L749.3,226.7 Q752.3,226.7 752.3,229.7 L752.3,244.1 Q752.3,247.1 749.3,247.1 L738,247.1 Z" fill="#a0a0a0"/><rect x="732.7" y="221.7" width="13" height="30.6" fill="#a0a0a0"/><line x1="736.6" y1="222" x2="736.6" y2="252" stroke="#808080" stroke-width="0.8"/><line x1="740.8" y1="222" x2="740.8" y2="252" stroke="#808080" stroke-width="0.8"/><line x1="745.6" y1="222" x2="745.6" y2="252" stroke="#808080" stroke-width="0.8"/><rect x="702.7" y="264.2" width="32.3" height="13.1" rx="6" fill="#a0a0a0"/><path d="M726,260.5 L749.2,260.5 Q752.2,260.5 752.2,263.5 L752.2,277.9 Q752.2,280.9 749.2,280.9 L726,280.9 Z" fill="#a0a0a0"/><rect x="726.7" y="255.5" width="6.8" height="30.6" fill="#a0a0a0"/><rect x="738" y="255.5" width="8" height="30.6" fill="#a0a0a0"/><line x1="741.8" y1="255.8" x2="741.8" y2="285.8" stroke="#808080" stroke-width="0.8"/><rect x="709.7" y="297.9" width="31.3" height="13.1" rx="6" fill="#a0a0a0"/><path d="M741,294.2 L749.3,294.2 Q752.3,294.2 752.3,297.2 L752.3,311.6 Q752.3,314.6 749.3,314.6 L741,314.6 Z" fill="#a0a0a0"/><rect x="737.9" y="289.2" width="7.7" height="30.6" fill="#a0a0a0"/><line x1="745.5" y1="289.5" x2="745.5" y2="319.5" stroke="#808080" stroke-width="0.8"/><rect x="702.7" y="332.4" width="32.3" height="13.1" rx="6" fill="#a0a0a0"/><path d="M726,328.7 L749.2,328.7 Q752.2,328.7 752.2,331.7 L752.2,346.1 Q752.2,349.1 749.2,349.1 L726,349.1 Z" fill="#a0a0a0"/><rect x="726.7" y="323.7" width="6.8" height="30.6" fill="#a0a0a0"/><rect x="738" y="323.7" width="8" height="30.6" fill="#a0a0a0"/><line x1="741.8" y1="324" x2="741.8" y2="354" stroke="#808080" stroke-width="0.8"/><rect x="709.7" y="364.7" width="25.3" height="13.1" rx="6" fill="#a0a0a0"/><path d="M740,361 L749.3,361 Q752.3,361 752.3,364 L752.3,378.4 Q752.3,381.4 749.3,381.4 L740,381.4 Z" fill="#a0a0a0"/><rect x="726" y="356" width="19.7" height="30.6" fill="#a0a0a0"/><line x1="733" y1="356.3" x2="733" y2="386.3" stroke="#808080" stroke-width="0.8"/><line x1="738.6" y1="356.3" x2="738.6" y2="386.3" stroke="#808080" stroke-width="0.8"/><line x1="741.2" y1="356.3" x2="741.2" y2="386.3" stroke="#808080" stroke-width="0.8"/><line x1="745.6" y1="356.3" x2="745.6" y2="386.3" stroke="#808080" stroke-width="0.8"/><circle cx="615.5" cy="144.4" r="8.9" fill="#727272"/><circle cx="615.5" cy="144.4" r="7.9" fill="#8e8e8e"/><circle cx="621.32" cy="146.81" r="0.7" fill="#bdbdb0"/><circle cx="617.91" cy="150.22" r="0.7" fill="#bdbdb0"/><circle cx="613.09" cy="150.22" r="0.7" fill="#bdbdb0"/><circle cx="609.68" cy="146.81" r="0.7" fill="#bdbdb0"/><circle cx="609.68" cy="141.99" r="0.7" fill="#bdbdb0"/><circle cx="613.09" cy="138.58" r="0.7" fill="#bdbdb0"/><circle cx="617.91" cy="138.58" r="0.7" fill="#bdbdb0"/><circle cx="621.32" cy="141.99" r="0.7" fill="#bdbdb0"/><circle cx="615.5" cy="144.4" r="4.8" fill="#777"/><circle cx="615.5" cy="144.4" r="3.9" fill="#8c8c8c"/><circle cx="615.5" cy="144.4" r="2.3" fill="#e4e0b0"/><circle cx="615.5" cy="198.5" r="8.9" fill="#727272"/><circle cx="615.5" cy="198.5" r="7.9" fill="#8e8e8e"/><circle cx="621.32" cy="200.91" r="0.7" fill="#bdbdb0"/><circle cx="617.91" cy="204.32" r="0.7" fill="#bdbdb0"/><circle cx="613.09" cy="204.32" r="0.7" fill="#bdbdb0"/><circle cx="609.68" cy="200.91" r="0.7" fill="#bdbdb0"/><circle cx="609.68" cy="196.09" r="0.7" fill="#bdbdb0"/><circle cx="613.09" cy="192.68" r="0.7" fill="#bdbdb0"/><circle cx="617.91" cy="192.68" r="0.7" fill="#bdbdb0"/><circle cx="621.32" cy="196.09" r="0.7" fill="#bdbdb0"/><circle cx="615.5" cy="198.5" r="4.8" fill="#777"/><circle cx="615.5" cy="198.5" r="3.9" fill="#8c8c8c"/><circle cx="615.5" cy="198.5" r="2.3" fill="#e4e0b0"/><circle cx="615.5" cy="303.8" r="8.9" fill="#727272"/><circle cx="615.5" cy="303.8" r="7.9" fill="#8e8e8e"/><circle cx="621.32" cy="306.21" r="0.7" fill="#bdbdb0"/><circle cx="617.91" cy="309.62" r="0.7" fill="#bdbdb0"/><circle cx="613.09" cy="309.62" r="0.7" fill="#bdbdb0"/><circle cx="609.68" cy="306.21" r="0.7" fill="#bdbdb0"/><circle cx="609.68" cy="301.39" r="0.7" fill="#bdbdb0"/><circle cx="613.09" cy="297.98" r="0.7" fill="#bdbdb0"/><circle cx="617.91" cy="297.98" r="0.7" fill="#bdbdb0"/><circle cx="621.32" cy="301.39" r="0.7" fill="#bdbdb0"/><circle cx="615.5" cy="303.8" r="4.8" fill="#777"/><circle cx="615.5" cy="303.8" r="3.9" fill="#8c8c8c"/><circle cx="615.5" cy="303.8" r="2.3" fill="#e4e0b0"/><rect x="470.3" y="480.2" width="290.8" height="18.9" fill="#141414"/><path d="M47.8,414 L66,414 L99.6,467.8" stroke="#3a3a3a" stroke-width="1" fill="none"/><path d="M41.8,347.1 L67.6,347.1 L134.2,377.3" stroke="#3a3a3a" stroke-width="1" fill="none"/><path d="M43.4,269.5 L66.8,269.5 L111.6,305.8" stroke="#3a3a3a" stroke-width="1" fill="none"/><path d="M40.4,173 L64.8,173 L111.8,201" stroke="#3a3a3a" stroke-width="1" fill="none"/><path d="M214,32.5 L188.9,32.5 L174.3,55" stroke="#3a3a3a" stroke-width="1" fill="none"/><path d="M268,32.5 L245.2,32.5 L237,59.6" stroke="#3a3a3a" stroke-width="1" fill="none"/><path d="M418.8,228 L386,228 L304.7,270" stroke="#3a3a3a" stroke-width="1" fill="none"/><path d="M413.8,313 L386.4,313 L370.8,342" stroke="#3a3a3a" stroke-width="1" fill="none"/><path d="M409.6,428.6 L387,428.6 L360,487.8" stroke="#3a3a3a" stroke-width="1" fill="none"/><path d="M589.6,24.5 L565.7,24.5 L555.6,54.5" stroke="#3a3a3a" stroke-width="1" fill="none"/><path d="M712.4,24.7 L687.3,24.7 L679.6,55.5" stroke="#3a3a3a" stroke-width="1" fill="none"/><text transform="translate(55,344.6) scale(1,1.08)" x="0" y="0" text-anchor="middle">2</text><text transform="translate(55.2,266.7) scale(1,1.08)" x="0" y="0" text-anchor="middle">3</text><text transform="translate(52.4,170.1) scale(1,1.08)" x="0" y="0" text-anchor="middle">4</text><text transform="translate(201,30.6) scale(1,1.08)" x="0" y="0" text-anchor="middle">5</text><text transform="translate(257,30.6) scale(1,1.08)" x="0" y="0" text-anchor="middle">6</text><text transform="translate(405,226.5) scale(1,1.08)" x="0" y="0" text-anchor="middle">7</text><text transform="translate(400.5,311.2) scale(1,1.08)" x="0" y="0" text-anchor="middle">8</text><text transform="translate(399,427.2) scale(1,1.08)" x="0" y="0" text-anchor="middle">9</text><text transform="translate(582,22.6) scale(1,1.08)" x="0" y="0" text-anchor="middle">0</text><path d="M57.95,401.4 L57.95,413.1 L56.2,413.1 L56.2,404 Q54.9,405.1 53.3,405.6 L53.3,404 Q55.3,403.2 56.5,401.4 Z" fill="#1a1a1a"/><path d="M573.15,11.8 L573.15,22.8 L571.4,22.8 L571.4,14.4 Q570.1,15.5 568.5,16 L568.5,14.4 Q570.5,13.6 571.7,11.8 Z" fill="#1a1a1a"/><path d="M696.05,11.4 L696.05,22.6 L694.3,22.6 L694.3,14 Q693,15.1 691.4,15.6 L691.4,14 Q693.4,13.2 694.6,11.4 Z" fill="#1a1a1a"/><path d="M706.45,11.4 L706.45,22.6 L704.7,22.6 L704.7,14 Q703.4,15.1 701.8,15.6 L701.8,14 Q703.8,13.2 705,11.4 Z" fill="#1a1a1a"/>
</svg>
</body></html>
